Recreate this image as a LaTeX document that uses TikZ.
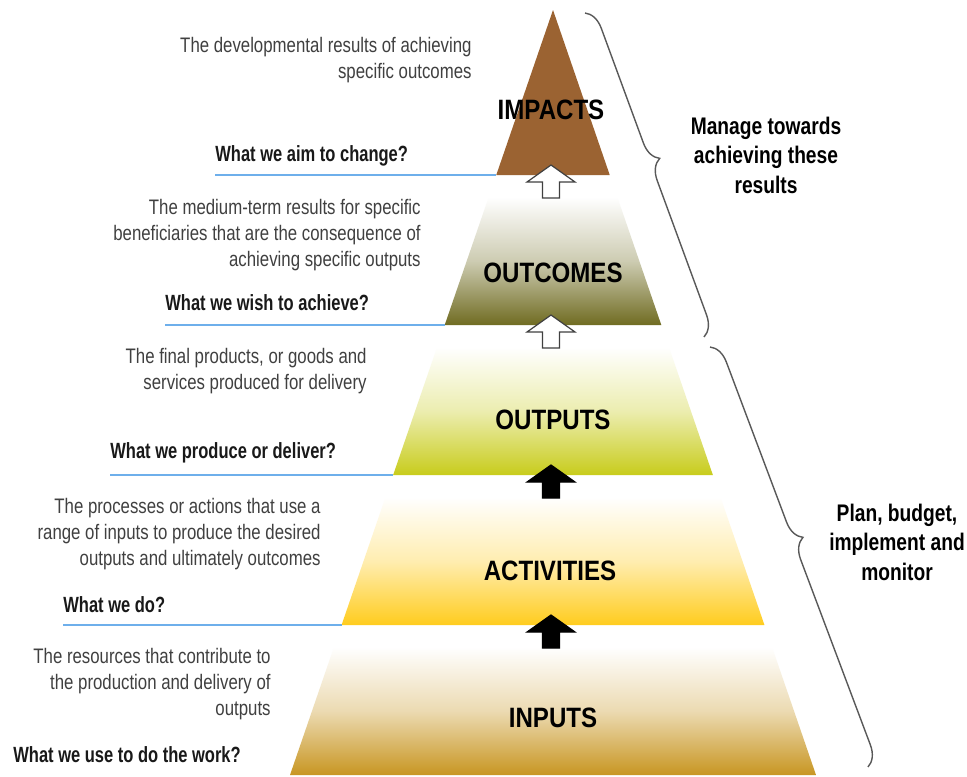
\documentclass[tikz,border=0pt]{standalone}
\usepackage{fontspec}
\setmainfont{Liberation Sans}[FakeStretch=0.8]
\newfontfamily\narrowfont{Liberation Sans}[FakeStretch=0.8]
\newfontfamily\askfont{Liberation Sans}[FakeStretch=0.75]
\newfontfamily\tierfont{Liberation Sans}[FakeStretch=0.86]
\usetikzlibrary{calc,decorations.pathreplacing}

\definecolor{impactcol}{RGB}{155,99,50}
\definecolor{outcomecol}{RGB}{112,108,34}
\definecolor{outputcol}{RGB}{200,204,28}
\definecolor{activitycol}{RGB}{255,204,30}
\definecolor{inputcol}{RGB}{200,150,34}
\definecolor{askcol}{RGB}{110,175,235}
\definecolor{desccol}{RGB}{64,64,64}

\begin{document}
\begin{tikzpicture}[x=0.5pt,y=-0.5pt,
		tier/.style={font=\tierfont\bfseries\fontsize{14}{16}\selectfont,inner sep=0pt},
		desc/.style={anchor=east,align=right,inner sep=0pt,text=desccol,font=\narrowfont\fontsize{10.5}{13}\selectfont},
		ask/.style={anchor=west,inner sep=0pt,text=black!90,font=\askfont\bfseries\fontsize{11}{13}\selectfont},
		askline/.style={draw=askcol,line width=1pt},
		side/.style={align=center,inner sep=0pt,font=\narrowfont\bfseries\fontsize{12}{14.75}\selectfont},
		hollowarrow/.style={fill=white,draw=black!75,line width=0.6pt},
		solidarrow/.style={fill=black,draw=black,line width=0.6pt},
		bracket/.style={decorate,decoration={brace,amplitude=10pt,aspect=0.47},draw=black!65,line width=0.7pt}]
	\fill[white] (0,0) rectangle (967,776);
	\useasboundingbox (0,0) rectangle (967,776);

	\coordinate (apex) at (553,10);
	\coordinate (baseL) at (290,775);
	\coordinate (baseR) at (816,775);

	% the pyramid, cut in five bands
	\coordinate (impacts-bl) at ($(apex)!{165/765}!(baseL)$);
	\fill[impactcol] (apex) -- (impacts-bl) -- ($(apex)!{165/765}!(baseR)$) -- cycle;
	\foreach \yt/\yb/\col/\nm in {197/325/outcomecol/outcomes, 347/475/outputcol/outputs,
			497/625/activitycol/activities, 647/775/inputcol/inputs} {
		\coordinate (\nm-bl) at ($(apex)!{(\yb-10)/765}!(baseL)$);
		\shade[top color=white,bottom color=\col,middle color=\col!35]
			($(apex)!{(\yt-10)/765}!(baseL)$) -- (\nm-bl)
			-- ($(apex)!{(\yb-10)/765}!(baseR)$) -- ($(apex)!{(\yt-10)/765}!(baseR)$) -- cycle;
	}

	\foreach \tip/\kind in {165/hollowarrow,315/hollowarrow,465/solidarrow,615/solidarrow}
		\draw[\kind] (551,\tip) -- ++(24,17) -- ++(-15.5,0) -- ++(0,16) -- ++(-17,0)
			-- ++(0,-16) -- ++(-15.5,0) -- cycle;

	\node[tier] (impacts) at (551,110) {IMPACTS};
	\node[tier] (outcomes) at (553,273) {OUTCOMES};
	\node[tier] (outputs) at (553,420) {OUTPUTS};
	\node[tier] (activities) at (550,571) {ACTIVITIES};
	\node[tier] (inputs) at (553,718) {INPUTS};

	\node[desc] (dimpacts) at (472,60) {The developmental results of achieving\\specific outcomes};
	\node[desc] (doutcomes) at (421,235) {The medium-term results for specific\\beneficiaries that are the consequence of\\achieving specific outputs};
	\node[desc] (doutputs) at (367,371) {The final products, or goods and\\services produced for delivery};
	\node[desc] (dactivities) at (321,534) {The processes or actions that use a\\range of inputs to produce the desired\\outputs and ultimately outcomes};
	\node[desc] (dinputs) at (271,684) {The resources that contribute to\\the production and delivery of\\outputs};

	\node[ask] (qimpacts) at (215,156) {What we aim to change?};
	\node[ask] (qoutcomes) at (165,303) {What we wish to achieve?};
	\node[ask] (qoutputs) at (110,453) {What we produce or deliver?};
	\node[ask] (qactivities) at (63,605) {What we do?};
	\node[ask] (qinputs) at (13,755) {What we use to do the work?};

	\draw[askline] (qimpacts.west |- impacts-bl) -- (impacts-bl);
	\draw[askline] (qoutcomes.west |- outcomes-bl) -- (outcomes-bl);
	\draw[askline] (qoutputs.west |- outputs-bl) -- (outputs-bl);
	\draw[askline] (qactivities.west |- activities-bl) -- (activities-bl);

	\draw[bracket] (585,13) -- (704,337);
	\draw[bracket] (710,347) -- (868,767);
	\node[side] (manage) at (766,155) {Manage towards\\achieving these\\results};
	\node[side] (plan) at (897,542) {Plan, budget,\\implement and\\monitor};
\end{tikzpicture}
\end{document}
